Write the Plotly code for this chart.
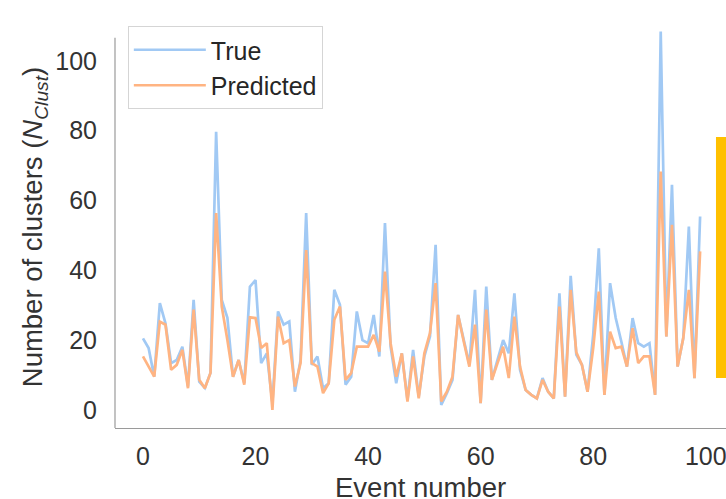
import plotly.graph_objects as go

events = list(range(100))

true_vals = [
    20.5, 17.7, 9.5, 30.6, 24.8, 13.4, 14.3, 18.1, 6.7, 31.5,
    8.1, 6.3, 10.6, 79.7, 31.5, 26.4, 9.5, 14.3, 7.7, 35.3,
    37.2, 13.4, 16.2, 2.0, 28.2, 24.4, 25.3, 5.2, 14.3, 56.4,
    12.9, 15.3, 6.2, 7.6, 34.4, 30.1, 7.2, 9.5, 28.2, 20.0,
    19.1, 27.2, 15.3, 53.5, 18.1, 7.6, 16.2, 2.9, 17.2, 3.8,
    15.3, 21.0, 47.3, 1.4, 4.8, 8.6, 27.2, 20.0, 13.0, 34.4,
    1.9, 35.3, 8.6, 14.3, 20.0, 16.2, 33.4, 11.5, 5.7, 4.3,
    3.3, 9.1, 5.2, 3.3, 33.4, 3.8, 38.4, 15.8, 12.9, 5.2,
    21.5, 46.3, 4.3, 36.3, 26.3, 19.6, 12.4, 26.3, 19.1, 18.1,
    19.1, 4.3, 108.4, 21.0, 64.5, 12.4, 20.5, 52.5, 9.1, 55.4,
]

pred_vals = [
    15.3, 12.4, 9.5, 25.3, 24.4, 11.5, 12.9, 17.2, 6.2, 28.7,
    8.6, 6.2, 10.6, 56.4, 29.6, 20.0, 9.5, 14.3, 7.2, 26.5,
    26.3, 17.7, 19.1, 0.0, 26.7, 19.1, 20.0, 6.7, 13.4, 45.8,
    13.4, 12.4, 4.8, 7.6, 25.8, 29.6, 8.6, 10.5, 18.1, 18.1,
    18.1, 21.5, 16.7, 39.6, 19.1, 9.5, 16.2, 2.4, 15.3, 3.3,
    16.2, 22.0, 36.3, 2.4, 5.2, 9.5, 27.2, 19.6, 12.4, 24.4,
    1.9, 28.7, 8.6, 13.4, 18.1, 9.1, 26.7, 12.4, 5.7, 4.3,
    3.3, 8.6, 5.2, 3.3, 29.6, 3.8, 34.4, 16.5, 12.9, 5.2,
    17.7, 33.9, 4.3, 22.4, 17.7, 18.1, 12.4, 23.4, 13.4, 15.3,
    15.3, 4.3, 68.3, 21.0, 53.0, 12.4, 20.5, 34.4, 9.1, 45.4,
]

tick_vals = [0, 20, 40, 60, 80, 100]
tick_text = ["0", "20", "40", "60", "80", "100"]

FONT = "Liberation Sans, Arial, sans-serif"

fig = go.Figure()
fig.add_trace(go.Scatter(x=events, y=true_vals, mode="lines", name="True",
                         line=dict(color="#a1c9f4", width=2.7)))
fig.add_trace(go.Scatter(x=events, y=pred_vals, mode="lines", name="Predicted",
                         line=dict(color="#ffb482", width=2.7)))

# left spine (stops a little below top of plot area)
fig.add_shape(type="line", xref="paper", yref="y", x0=0, x1=0, y0=-5.2, y1=106.6,
              line=dict(color="#9a9a9a", width=1.2))
# cropped yellow element on the right edge
fig.add_shape(type="rect", xref="paper", yref="paper", x0=0.9836, x1=1.01,
              y0=0.1244, y1=0.7239, fillcolor="#ffc000", line=dict(width=0),
              layer="above")

# x-axis title as an annotation so it can sit flush with the bottom edge
fig.add_annotation(text="Event number", xref="paper", yref="paper",
                   x=0.5, y=-0.1766, xanchor="center", yanchor="bottom",
                   yshift=-5, borderpad=0,
                   showarrow=False, font=dict(size=27.5, color="#333333"))

fig.update_layout(
    width=726, height=499,
    margin=dict(l=115, r=0, t=26, b=71),
    paper_bgcolor="white", plot_bgcolor="white",
    font=dict(family=FONT, color="#333333", size=25),
    showlegend=True,
    legend=dict(x=0.021, y=1.0, xanchor="left", yanchor="top",
                bgcolor="white", bordercolor="#d5d5d5", borderwidth=1,
                font=dict(size=25, color="#262626"), itemwidth=72,
                tracegroupgap=0),
    xaxis=dict(range=[-4.97, 103.6], tickmode="array", tickvals=tick_vals,
               ticktext=tick_text, showgrid=False, zeroline=False,
               showline=True, linecolor="#9a9a9a", linewidth=1.2,
               ticks="", ticklabelstandoff=6, ticklabeloverflow="allow",
               automargin=False,
               tickfont=dict(size=25, color="#333333")),
    yaxis=dict(range=[-5.2, 110], tickmode="array", tickvals=tick_vals,
               ticktext=tick_text, showgrid=False, zeroline=False,
               showline=False, ticks="", ticklabelstandoff=17,
               automargin=False,
               tickfont=dict(size=25, color="#333333"),
               title=dict(text="Number of clusters (<i>N</i><sub><i>Clust</i></sub>)",
                          standoff=4, font=dict(size=27.5, color="#333333"))),
)

fig.write_html(
    "out.html",
    config={"displayModeBar": False},
    post_script="document.body.style.margin='0';document.body.style.overflow='hidden';",
)
